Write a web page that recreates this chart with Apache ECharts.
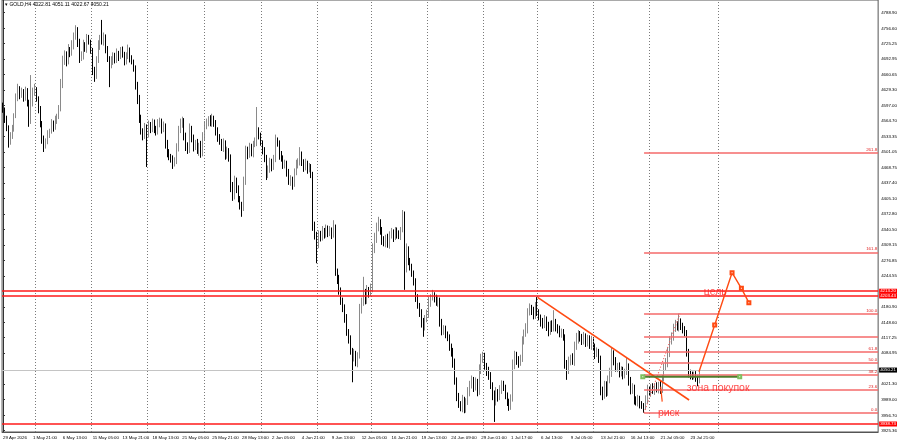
<!DOCTYPE html>
<html><head><meta charset="utf-8">
<script src="https://cdn.jsdelivr.net/npm/echarts@6/dist/echarts.min.js"></script>
<style>html,body{margin:0;padding:0;background:#fff}#c{width:900px;height:444px}</style>
</head><body><div id="c"></div>
<script>
const SLOTS = 469;
const xTickStep = 16;
const xTickLabels = ["29 Apr 2026","1 May 21:00","6 May 13:00","11 May 05:00","13 May 21:00","18 May 13:00","21 May 05:00","25 May 21:00","28 May 13:00","2 Jun 05:00","4 Jun 21:00","9 Jun 13:00","12 Jun 05:00","16 Jun 21:00","19 Jun 13:00","24 Jun 09:00","29 Jun 01:00","1 Jul 17:00","6 Jul 13:00","9 Jul 05:00","13 Jul 21:00","16 Jul 13:00","21 Jul 05:00","23 Jul 21:00"];
const gridBars = [17,47,77,108,138,168,197,227,257,286,316,346,383];
const firstOpen = 4595;
const closes = [
4588,4570,4552,4528,4535,4548,4575,4612,4630,4618,
4625,4614,4628,4605,4565,4600,4625,4630,4612,4590,
4562,4530,4515,4522,4538,4545,4560,4552,4566,4575,
4590,4640,4690,4702,4688,4712,4705,4722,4740,4752,
4730,4695,4700,4722,4715,4735,4728,4712,4670,4658,
4690,4720,4735,4730,4738,4715,4695,4680,4690,4700,
4692,4705,4698,4710,4702,4690,4700,4712,4695,4688,
4675,4640,4612,4570,4545,4535,4552,4540,4556,4548,
4562,4550,4542,4560,4565,4548,4556,4520,4500,4492,
4488,4478,4482,4510,4545,4558,4566,4535,4512,4505,
4550,4530,4512,4520,4505,4515,4498,4530,4555,4562,
4568,4560,4570,4562,4545,4530,4522,4510,4520,4495,
4505,4490,4430,4410,4440,4425,4405,4392,4385,4440,
4505,4495,4510,4500,4518,4522,4545,4535,4520,4505,
4490,4455,4465,4480,4470,4485,4525,4520,4495,4488,
4475,4478,4460,4440,4445,4435,4458,4475,4480,4495,
4480,4470,4478,4465,4470,4455,4350,4330,4310,4330,
4325,4338,4330,4342,4335,4340,4330,4345,4255,4240,
4215,4195,4178,4160,4130,4115,4090,4075,4085,4068,
4080,4175,4190,4210,4195,4215,4210,4220,4300,4320,
4345,4355,4340,4318,4312,4322,4310,4330,4335,4325,
4338,4330,4328,4340,4370,4262,4300,4275,4265,4250,
4235,4200,4185,4170,4150,4140,4155,4165,4190,4200,
4205,4198,4190,4195,4150,4130,4135,4125,4118,4100,
4090,4070,4030,3995,3980,3975,3990,3970,3985,4005,
4020,4030,4015,4025,4005,4050,4075,4080,4060,4050,
4040,4020,4000,3985,4005,3995,4010,4022,4015,4000,
3985,3978,3992,4060,4080,4070,4065,4075,4110,4125,
4135,4170,4178,4172,4165,4180,4170,4160,4150,4145,
4155,4140,4130,4145,4138,4150,4140,4135,4125,4130,
4120,4065,4050,4070,4075,4068,4100,4115,4125,4118,
4110,4120,4108,4115,4102,4112,4100,4085,4090,4075,
4010,4000,4020,4005,4030,4045,4085,4070,4055,4060,
4045,4050,4040,4048,4060,4030,4010,4015,3990,3985,
3992,3980,3978,3975,3990,4010,4005,4015,4008,4018,
4012,4020,4010,4035,4055,4065,4085,4110,4120,4135,
4145,4140,4150,4140,4135,4128,4090,4045,4040,4038,
4042,4035,4022.81,4050.21];
const wickUp = [
8,5,6,4,7,9,6,10,12,7, 9,6,8,5,4,60,9,12,5,4, 6,3,5,7,8,4,9,6,10,5, 8,12,10,9,7,12,6,10,8,11,
7,5,9,11,6,10,8,5,4,7, 9,12,8,39,10,6,5,4,9,7, 6,10,5,8,9,6,7,11,5,6, 4,5,6,7,8,5,9,6,10,7,
8,6,5,9,7,5,8,4,6,7, 5,6,8,9,10,12,8,5,6,9, 10,5,7,6,8,5,9,12,10,8, 7,9,10,6,5,7,8,6,9,5,
7,4,6,9,12,8,7,5,6,10, 9,7,10,8,6,9,49,7,6,5, 6,5,8,9,7,10,12,6,5,8, 6,7,5,6,8,5,9,10,8,16,
7,6,9,5,8,6,5,7,6,9, 8,10,6,9,7,8,5,15,6,5, 7,6,5,8,6,5,7,6,9,5, 7,12,10,33,8,11,7,9,12,14,
10,12,7,6,9,8,10,7,9,6, 8,7,9,6,11,8,12,6,7,5, 6,5,7,4,6,8,9,10,12,7, 11,6,8,9,5,6,8,7,5,6,
5,6,4,5,8,6,9,5,7,10, 8,9,6,10,7,12,9,8,6,5, 7,6,5,8,10,6,9,7,6,5, 4,6,8,12,10,8,9,7,10,9,
12,8,10,7,9,11,21,6,5,8, 9,6,10,7,8,24,6,5,7,6, 5,4,6,8,7,10,9,12,8,6, 7,9,6,8,7,9,6,5,7,4,
5,6,8,7,9,10,12,6,7,5, 6,8,7,5,17,4,6,8,5,6, 7,5,6,4,8,10,7,6,8,5, 7,6,8,5,9,10,12,10,8,11,
9,6,17,7,8,6,5,4,6,7, 5,6,4,0.9];
const wickDn = [
6,9,8,18,12,7,5,4,6,8, 5,9,7,10,12,6,5,8,7,9, 10,12,14,7,5,8,6,9,5,7, 6,5,7,9,10,6,8,5,9,7,
12,10,6,8,7,9,5,8,10,12, 6,5,8,7,9,10,8,45,6,9, 8,7,9,5,6,10,8,7,9,6, 8,10,12,9,8,10,7,70,9,8,
6,10,7,5,8,9,6,12,10,8, 9,12,7,6,8,5,7,10,9,8, 6,9,10,7,8,12,9,6,5,7, 8,6,7,9,10,8,6,7,9,10,
8,9,12,10,7,9,8,10,18,6, 7,9,6,8,10,7,9,8,6,9, 10,12,8,7,9,6,5,8,10,7, 9,8,10,7,9,12,6,5,8,7,
8,10,7,9,6,8,12,10,39,8, 9,7,8,6,10,8,9,6,10,12, 9,10,8,12,9,10,8,50,7,10, 12,6,8,7,9,8,10,7,9,8,
7,8,10,9,6,8,7,9,8,10, 6,8,7,9,5,46,10,8,9,7, 10,9,8,10,12,21,8,6,7,9, 6,8,7,9,10,8,7,9,8,10,
12,15,10,9,8,10,12,9,8,7, 9,8,10,7,9,6,8,10,9,12, 10,9,12,42,8,10,7,9,8,10, 9,12,10,7,8,9,10,6,8,7,
6,9,7,8,10,9,8,7,10,9, 8,9,10,7,9,8,10,9,7,8, 9,12,20,8,10,7,9,8,10,9, 8,7,10,9,8,10,9,12,8,10,
12,12,9,10,8,7,9,10,8,9, 10,8,9,7,8,12,10,9,11,8, 10,9,8,13,7,9,8,10,7,9, 8,10,9,7,8,6,9,8,7,9,
6,8,10,7,9,8,12,10,9,8, 7,9,6,0.14];
const yTicks = [4788.90,4756.60,4725.25,4692.95,4660.65,4629.30,4597.00,4564.70,4533.35,4501.05,4468.75,4437.40,4405.10,4372.80,4340.50,4309.15,4276.85,4244.55,4180.90,4148.60,4117.25,4084.95,4021.30,3989.00,3956.70,3925.36];
const yMin = 3922.2, yMax = 4815.15;
const redLevels = [4213.20, 4203.43, 3938.73];
const lastPrice = 4050.21;
const fibBase = [[343.2, 3962], [362.4, 4167]];
const fibLevels = [0, 23.6, 38.2, 50, 61.8, 76.4, 100, 161.8, 261.8];
const fibLabelled = [true, true, true, true, true, false, true, true, true];
const trendLine = [[286.2, 4200.6], [367.3, 3988.4]];
const targetPath = [[372.6, 4046.9], [381.0, 4143.4], [390.3, 4251.5], [395.3, 4219.2], [399.3, 4189.5]];
const buyZone = [[342.5, 4036.5], [394.4, 4036.5]];
const riskMark = [[352.1, 4016], [352.9, 3985]];
const notes = [["цель", 375.2, 4212], ["зона покупок", 366.1, 4013.8], ["риск", 350.6, 3961.5]];

const FS = 4.4, FF = "Liberation Sans";
const cats = Array.from({length: SLOTS}, (_, i) => String(i));
const candles = closes.map((c, i) => {
  const o = i ? closes[i - 1] : firstOpen;
  return [o, c, +(Math.min(o, c) - wickDn[i]).toFixed(2), +(Math.max(o, c) + wickUp[i]).toFixed(2)];
});
const last = candles[candles.length - 1];
const header = "GOLD,H4 " + [last[0], last[3], last[2], last[1]].map(v => v.toFixed(2)).join(" ");
const fibPrice = l => fibBase[0][1] + (fibBase[1][1] - fibBase[0][1]) * l / 100;

const chart = echarts.init(document.getElementById('c'), null, {renderer: 'canvas'});
chart.setOption({
  animation: false,
  backgroundColor: '#fff',
  textStyle: {fontFamily: FF},
  grid: {left: 0, right: 21, top: 0, bottom: 12, show: true, borderColor: '#555', borderWidth: 1, backgroundColor: '#fff'},
  graphic: [{type: 'text', left: 5, top: 2, z: 100, style: {text: '\u25BE ' + header, fontSize: 5, fill: '#000', fontFamily: FF}}],
  xAxis: [{
    type: 'category', data: cats, boundaryGap: true,
    axisLine: {show: true, lineStyle: {color: '#555', width: 1}},
    axisTick: {show: false}, splitLine: {show: false},
    axisLabel: {interval: xTickStep - 1, align: 'left', fontSize: FS, color: '#000', margin: 4, fontFamily: FF,
      formatter: v => { const i = +v; return i % xTickStep === 0 ? (xTickLabels[i / xTickStep] || '') : ''; }}
  }, {
    type: 'value', min: -0.5, max: SLOTS - 0.5, show: false
  }],
  yAxis: {
    type: 'value', position: 'right', min: yMin, max: yMax, scale: true,
    splitLine: {show: false},
    axisLine: {show: true, lineStyle: {color: '#333', width: 1}},
    axisTick: {show: true, length: 2, customValues: yTicks, lineStyle: {color: '#333'}},
    axisLabel: {customValues: yTicks, fontSize: FS, color: '#000', margin: 3, fontFamily: FF, formatter: v => v.toFixed(2)}
  },
  series: [
    {
      type: 'line', xAxisIndex: 1, data: [], z: 1, silent: true,
      markLine: {silent: true, symbol: ['none', 'none'], label: {show: false},
        lineStyle: {color: '#7a7a7a', type: [1, 2], width: 1},
        data: gridBars.map(b => ({xAxis: b}))}
    },
    {
      type: 'line', xAxisIndex: 1, data: [], z: 2, silent: true,
      markLine: {silent: true, symbol: ['none', 'none'],
        lineStyle: {color: '#f46a6a', width: 1.5, type: 'solid'},
        label: {position: 'insideEndTop', distance: 1, fontSize: FS, color: '#e02020', fontFamily: FF},
        data: fibLevels.map((l, k) => [{
          coord: [fibBase[0][0], fibPrice(l)],
          label: {show: fibLabelled[k], formatter: l.toFixed(1)}
        }, {coord: [SLOTS - 0.5, fibPrice(l)]}])}
    },
    {
      type: 'candlestick', xAxisIndex: 0, yAxisIndex: 0, data: candles, barWidth: 1.2, z: 3,
      itemStyle: {color: '#8a8a8a', color0: '#000', borderColor: '#8a8a8a', borderColor0: '#000', borderWidth: 1},
      markLine: {silent: true, symbol: ['none', 'none'],
        data: redLevels.map(v => ({
          yAxis: v, lineStyle: {color: '#ff1a1a', width: 1.7, type: 'solid'},
          label: {show: true, position: 'end', distance: 1, formatter: v.toFixed(2), fontSize: FS, color: '#fff', backgroundColor: '#ff0000', padding: [1, 1, 0, 1], fontFamily: FF}
        })).concat([{
          yAxis: lastPrice, lineStyle: {color: '#c4c4c4', width: 1.2, type: 'solid'},
          label: {show: true, position: 'end', distance: 1, formatter: lastPrice.toFixed(2), fontSize: FS, color: '#fff', backgroundColor: '#000', padding: [1, 1, 0, 1], fontFamily: FF}
        }])}
    },
    {type: 'line', xAxisIndex: 1, data: fibBase, z: 4, showSymbol: false, silent: true,
      lineStyle: {color: '#f25b5b', width: 1.2, type: [1, 2]}},
    {type: 'line', xAxisIndex: 1, data: trendLine, z: 5, showSymbol: false, silent: true,
      lineStyle: {color: '#ff4a12', width: 1.6}},
    {type: 'line', xAxisIndex: 1, data: buyZone, z: 5, symbol: 'emptyRect', symbolSize: 3, silent: true,
      lineStyle: {color: '#4f7d2b', width: 2}, itemStyle: {color: '#7fbf5f', borderColor: '#7fbf5f', borderWidth: 1}},
    {type: 'line', xAxisIndex: 1, z: 6, symbol: 'emptyRect', symbolSize: 3, silent: true,
      data: targetPath.map((p, k) => k === 0 ? {value: p, symbol: 'none'} : {value: p}),
      lineStyle: {color: '#ff4a12', width: 1.4}, itemStyle: {color: '#ff4a12', borderWidth: 1}},
    {type: 'line', xAxisIndex: 1, data: riskMark, z: 6, showSymbol: false, silent: true,
      lineStyle: {color: '#ff4a12', width: 1.2}},
    {type: 'scatter', xAxisIndex: 1, z: 7, symbolSize: 0, silent: true,
      data: notes.map(n => ({name: n[0], value: [n[1], n[2]]})),
      label: {show: true, position: 'right', distance: 0, formatter: p => p.name, fontSize: 10.5, color: '#ff2020', fontFamily: FF}}
  ]
});
</script></body></html>
